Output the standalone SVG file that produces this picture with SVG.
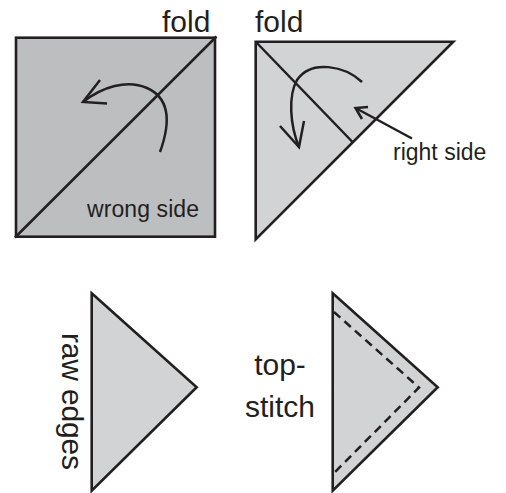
<svg xmlns="http://www.w3.org/2000/svg" width="506" height="493" viewBox="0 0 506 493">
<style>
.sh{stroke:#231f20;stroke-width:2.6;stroke-linejoin:miter}
.ln{fill:none;stroke:#231f20;stroke-width:2.5;stroke-linecap:butt}
.t{font-family:"Liberation Sans",Arial,sans-serif;fill:#231f20}
.big{font-size:30px}
.sm{font-size:23px}
.dash{fill:none;stroke:#231f20;stroke-width:2.5;stroke-dasharray:8.5 5.5}
</style>
<rect width="506" height="493" fill="#ffffff"/>
<g id="step1">
<rect class="sh" x="16" y="37.7" width="199" height="199" fill="#bcbec0"/>
<line class="ln" x1="15" y1="237.5" x2="216.5" y2="36.5"/>
<path class="ln" d="M160,152 C168,130 174,100 147,88 C127,79 102,87 83,102"/>
<polyline class="ln" points="100,80 83,102 107,103.5"/>
<text class="t big" x="162" y="32">fold</text>
<text class="t sm" x="87" y="217" textLength="112">wrong side</text>
</g>
<g id="step2">
<polygon class="sh" points="255.7,41.7 453.3,41.7 255.7,239.3" fill="#d1d3d4"/>
<line class="ln" x1="256" y1="42" x2="353" y2="142.5"/>
<path class="ln" d="M362,82 C345,66 311,59 297,80 C288,96 290,125 299,147"/>
<polyline class="ln" points="280,126 299,147 304,121"/>
<line class="ln" x1="412" y1="138.5" x2="355.5" y2="108"/>
<polyline class="ln" points="368,107 355.5,108 362,119"/>
<text class="t big" x="255" y="32">fold</text>
<text class="t sm" x="393" y="160">right side</text>
</g>
<g id="step3">
<polygon class="sh" points="91.7,293.3 196.7,387.3 91.7,490.7" fill="#d1d3d4"/>
<text class="t big" transform="translate(62,333) rotate(90)" textLength="137">raw edges</text>
</g>
<g id="step4">
<polygon class="sh" points="332.7,293.3 437.7,387.3 332.7,490.7" fill="#d1d3d4"/>
<polyline class="dash" points="334,312 419,387.5 334,473"/>
<text class="t big" x="280" y="375" text-anchor="middle">top-</text>
<text class="t big" x="280" y="417" text-anchor="middle">stitch</text>
</g>
</svg>
